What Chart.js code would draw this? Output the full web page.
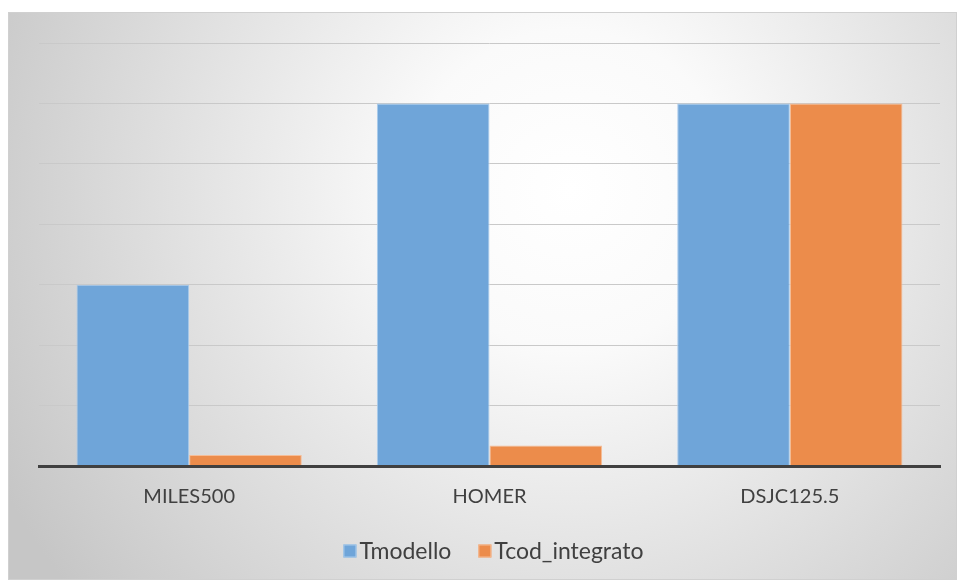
<!DOCTYPE html>
<html>
<head>
<meta charset="utf-8">
<script src="https://cdn.jsdelivr.net/npm/chart.js@4/dist/chart.umd.min.js"></script>
<style>
  html, body { margin: 0; padding: 0; background: #ffffff; }
  #wrap { position: relative; width: 957px; height: 583px; }
  canvas { display: block; }
</style>
</head>
<body>
<div id="wrap"><canvas id="c" width="957" height="583"></canvas></div>
<script>
const categories = ["MILES500", "HOMER", "DSJC125.5"];
const tmodello = [3, 6, 6];
const tcodIntegrato = [0.18, 0.34, 6];
const seriesNames = ["Tmodello", "Tcod_integrato"];

const FONT = "Lato, 'Open Sans', sans-serif";

const framePlugin = {
  id: 'frame',
  beforeDraw(chart) {
    const ctx = chart.ctx;
    const x0 = 8, y0 = 12, x1 = 957, y1 = 580;
    ctx.save();
    ctx.fillStyle = '#ffffff';
    ctx.fillRect(0, 0, chart.width, chart.height);
    const g = ctx.createRadialGradient(570, 190, 0, 570, 190, 640);
    g.addColorStop(0, '#ffffff');
    g.addColorStop(0.25, '#fafafa');
    g.addColorStop(1, '#c6c6c6');
    ctx.fillStyle = g;
    ctx.fillRect(x0, y0, x1 - x0, y1 - y0);
    ctx.strokeStyle = '#d0d0d0';
    ctx.lineWidth = 1;
    ctx.strokeRect(x0 + 0.5, y0 + 0.5, x1 - x0 - 1, y1 - y0 - 1);
    ctx.restore();
  },
  afterDraw(chart) {
    // legend drawn from the chart's datasets
    const ctx = chart.ctx;
    ctx.save();
    ctx.font = '23px ' + FONT;
    ctx.textBaseline = 'middle';
    const box = 13, gapText = 3, gapItem = 27;
    const items = chart.data.datasets.map(d => ({
      label: d.label, color: d.backgroundColor, border: d.borderColor,
      w: ctx.measureText(d.label).width
    }));
    let total = 0;
    items.forEach((it, i) => { total += box + gapText + it.w + (i < items.length - 1 ? gapItem : 0); });
    const cx = (chart.chartArea.left + chart.chartArea.right) / 2 + 4;
    let x = cx - total / 2;
    const cy = 551;
    items.forEach(it => {
      ctx.fillStyle = it.color;
      ctx.fillRect(x, cy - box / 2, box, box);
      ctx.strokeStyle = it.border;
      ctx.lineWidth = 1;
      ctx.strokeRect(x + 0.5, cy - box / 2 + 0.5, box - 1, box - 1);
      x += box + gapText;
      ctx.fillStyle = '#404040';
      ctx.fillText(it.label, x, cy + 1);
      x += it.w + gapItem;
    });
    ctx.restore();
  }
};

new Chart(document.getElementById('c'), {
  type: 'bar',
  data: {
    labels: categories,
    datasets: [
      {
        label: seriesNames[0],
        data: tmodello,
        backgroundColor: '#6fa5d9',
        borderColor: '#a9cbec',
        borderWidth: 1
      },
      {
        label: seriesNames[1],
        data: tcodIntegrato,
        backgroundColor: '#ec8c4b',
        borderColor: '#f6bd97',
        borderWidth: 1
      }
    ]
  },
  options: {
    responsive: false,
    animation: false,
    devicePixelRatio: 1,
    layout: { padding: { left: 39, right: 17, top: 43, bottom: 55 } },
    datasets: { bar: { categoryPercentage: 0.75, barPercentage: 1.0 } },
    plugins: {
      legend: { display: false },
      tooltip: { enabled: false }
    },
    scales: {
      x: {
        grid: { display: false, drawTicks: false },
        border: { display: true, color: '#404040', width: 3, z: 1 },
        ticks: { color: '#404040', padding: 19, font: { family: FONT, size: 20 } }
      },
      y: {
        min: 0,
        max: 7,
        ticks: { display: false, stepSize: 1 },
        grid: { color: '#c9c9c9', lineWidth: 1, drawTicks: false },
        border: { display: false }
      }
    }
  },
  plugins: [framePlugin]
});
</script>
</body>
</html>
